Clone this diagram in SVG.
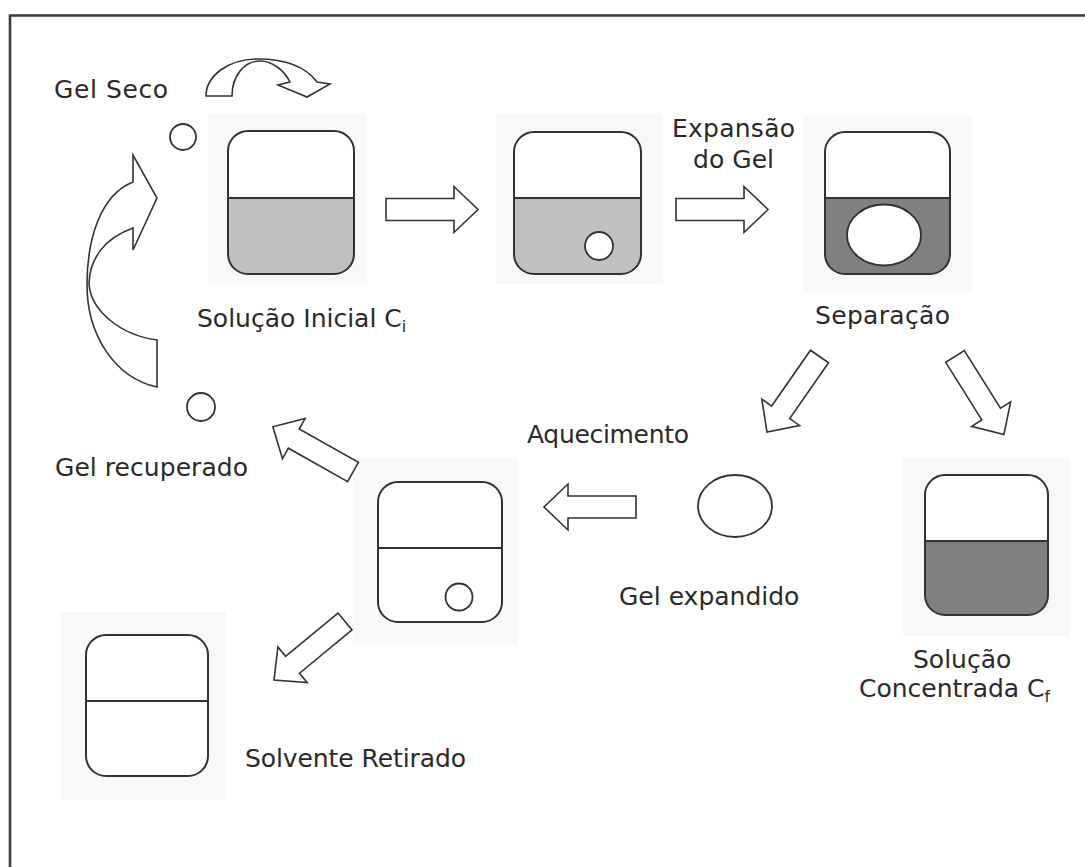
<svg xmlns="http://www.w3.org/2000/svg" width="1085" height="867" viewBox="0 0 1085 867">
  <defs>
    <style>
      .panel { fill: #f8f8f8; }
      .vessel { fill: none; stroke: #333; stroke-width: 2; }
      .top { fill: #ffffff; }
      .light { fill: #c0c0c0; }
      .dark { fill: #808080; }
      .level { stroke: #333; stroke-width: 2; }
      .gel { fill: #ffffff; stroke: #333; stroke-width: 1.8; }
      .block { fill: #ffffff; stroke: #333; stroke-width: 1.6; stroke-linejoin: miter; }
      .label { font-family: "DejaVu Sans", "Liberation Sans", sans-serif; font-size: 25px; fill: #2a2a2a; }
      .sub { font-size: 16px; }
    </style>
    <!-- straight block arrow: tail centred on the origin, pointing along +x -->
    <polygon id="blockArrow" points="0,-11 68,-11 68,-23 92,0 68,23 68,11 0,11"/>
  </defs>

  <rect width="1085" height="867" fill="#ffffff"/>
  <!-- frame -->
  <path d="M10,867 V15.5 H1085" fill="none" stroke="#3a3a3a" stroke-width="2.6"/>

  <!-- Gel seco -->
  <g id="gel-seco">
    <circle class="gel" cx="183" cy="137" r="13"/>
    <text class="label" x="54" y="98" textLength="114">Gel Seco</text>
  </g>

  <!-- Solução inicial -->
  <g id="solucao-inicial">
    <rect class="panel" x="208" y="113" width="159" height="172"/>
    <rect class="top" x="228" y="131" width="126" height="143" rx="20"/>
    <path class="light" d="M228,198 H354 V254 A20,20 0 0 1 334,274 H248 A20,20 0 0 1 228,254 Z"/>
    <line class="level" x1="228" y1="198" x2="354" y2="198"/>
    <rect class="vessel" x="228" y="131" width="126" height="143" rx="20"/>
    <text class="label" x="197" y="327">Solução Inicial C<tspan class="sub" dy="5">i</tspan></text>
  </g>

  <!-- gel added to the solution -->
  <g id="gel-na-solucao">
    <rect class="panel" x="496" y="113" width="167" height="171"/>
    <rect class="top" x="514" y="132" width="127" height="142" rx="20"/>
    <path class="light" d="M514,198 H641 V254 A20,20 0 0 1 621,274 H534 A20,20 0 0 1 514,254 Z"/>
    <line class="level" x1="514" y1="198" x2="641" y2="198"/>
    <rect class="vessel" x="514" y="132" width="127" height="142" rx="20"/>
    <circle class="gel" cx="599" cy="246" r="14"/>
  </g>

  <!-- Expansão do gel -->
  <g id="expansao">
    <text class="label" x="672" y="137" textLength="123">Expansão</text>
    <text class="label" x="693" y="168" textLength="81">do Gel</text>
  </g>

  <!-- Separação -->
  <g id="separacao">
    <rect class="panel" x="803" y="115" width="169" height="178"/>
    <rect class="top" x="825" y="132" width="125" height="142" rx="20"/>
    <path class="dark" d="M825,198 H950 V254 A20,20 0 0 1 930,274 H845 A20,20 0 0 1 825,254 Z"/>
    <line class="level" x1="825" y1="198" x2="950" y2="198"/>
    <rect class="vessel" x="825" y="132" width="125" height="142" rx="20"/>
    <ellipse class="gel" cx="884" cy="235" rx="37" ry="30.5"/>
    <text class="label" x="815" y="324" textLength="135">Separação</text>
  </g>

  <!-- Gel expandido -->
  <g id="gel-expandido">
    <ellipse class="gel" cx="735" cy="506" rx="37" ry="31"/>
    <text class="label" x="619" y="605">Gel expandido</text>
  </g>

  <!-- Solução concentrada -->
  <g id="solucao-concentrada">
    <rect class="panel" x="903" y="457" width="167" height="179"/>
    <rect class="top" x="925" y="475" width="123" height="140" rx="20"/>
    <path class="dark" d="M925,541 H1048 V595 A20,20 0 0 1 1028,615 H945 A20,20 0 0 1 925,595 Z"/>
    <line class="level" x1="925" y1="541" x2="1048" y2="541"/>
    <rect class="vessel" x="925" y="475" width="123" height="140" rx="20"/>
    <text class="label" x="913" y="668">Solução</text>
    <text class="label" x="859" y="697">Concentrada C<tspan class="sub" dy="5">f</tspan></text>
  </g>

  <!-- Aquecimento -->
  <g id="aquecimento">
    <rect class="panel" x="353" y="457" width="165" height="188"/>
    <rect class="top" x="378" y="482" width="124" height="140" rx="20"/>
    <line class="level" x1="378" y1="548" x2="502" y2="548"/>
    <rect class="vessel" x="378" y="482" width="124" height="140" rx="20"/>
    <circle class="gel" cx="459" cy="597" r="13.5"/>
    <text class="label" x="527" y="443" textLength="162">Aquecimento</text>
  </g>

  <!-- Gel recuperado -->
  <g id="gel-recuperado">
    <circle class="gel" cx="201" cy="407" r="14"/>
    <text class="label" x="55" y="476" textLength="193">Gel recuperado</text>
  </g>

  <!-- Solvente retirado -->
  <g id="solvente-retirado">
    <rect class="panel" x="61" y="612" width="165" height="188"/>
    <rect class="top" x="86" y="635" width="122" height="141" rx="20"/>
    <line class="level" x1="86" y1="701" x2="208" y2="701"/>
    <rect class="vessel" x="86" y="635" width="122" height="141" rx="20"/>
    <text class="label" x="245" y="767" textLength="221">Solvente Retirado</text>
  </g>

  <!-- connectors -->
  <g id="connectors">
    <use href="#blockArrow" class="block" transform="translate(386,209.5)"/>
    <use href="#blockArrow" class="block" transform="translate(676,209.5)"/>
    <use href="#blockArrow" class="block" transform="translate(819.5,356.5) rotate(124.8)"/>
    <use href="#blockArrow" class="block" transform="translate(955,356.5) rotate(57.9)"/>
    <use href="#blockArrow" class="block" transform="translate(636,507) rotate(180)"/>
    <use href="#blockArrow" class="block" transform="translate(353,472) rotate(209.4)"/>
    <use href="#blockArrow" class="block" transform="translate(345,621.5) rotate(140.5)"/>
    <!-- curved arrow over the dry gel -->
    <path class="block" d="M206,96 L232,96 C232,75 245,61 260,61 C272,61 284,70 290,82 L278,85 L307,97 L330,84 L317,82 C305,66 285,59 258,59 C228,59 206,76 206,96 Z"/>
    <!-- curved return arrow on the left -->
    <path class="block" d="M157,387 L157,340 C120,335 90,310 89,283 C90,258 105,238 133,228 L133,250 L157,198 L133,155 L133,182 C100,195 87,240 87,285 C87,335 115,378 157,387 Z"/>
  </g>
</svg>
